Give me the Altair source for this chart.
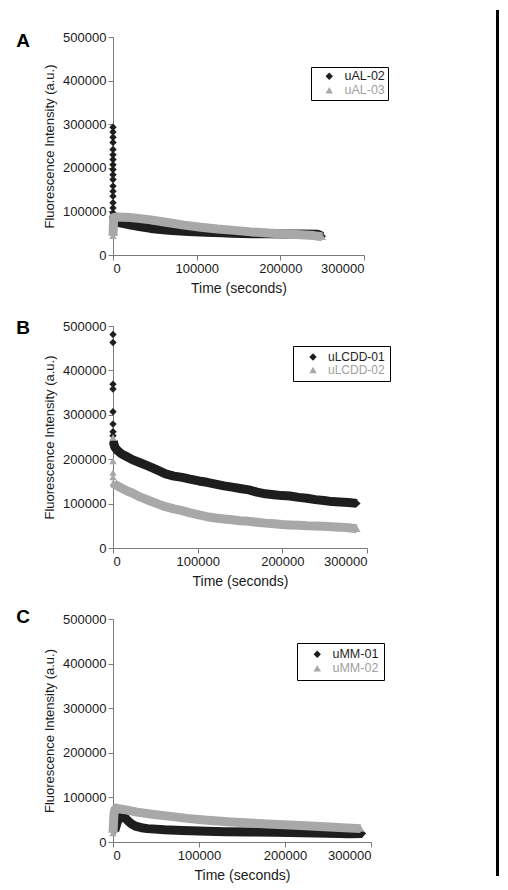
import altair as alt
import pandas as pd

panel_letters = ["A", "B", "C"]
series_names = [["uAL-02", "uAL-03"], ["uLCDD-01", "uLCDD-02"], ["uMM-01", "uMM-02"]]
x_ticks = [0, 100000, 200000, 300000]
y_ticks = [0, 100000, 200000, 300000, 400000, 500000]

# ---- Panel A ----
a1_spike_t = [0, 0, 0, 0, 0, 0, 0, 0, 0, 0, 0, 0, 0, 0, 0, 0, 0]
a1_spike_v = [293000, 282000, 270000, 258000, 242000, 230000, 219000, 207000, 196000,
              184000, 173000, 158000, 146000, 135000, 120000, 108000, 97000]
a1_t = [400, 2000, 5000, 10000, 20000, 31500, 45000, 60000, 71000, 90000, 111000,
        130000, 143000, 165000, 185000, 205000, 225000, 245000, 250000]
a1_v = [92000, 80000, 76000, 73000, 69000, 65000, 61000, 58000, 56000, 54000, 52000,
        51000, 50000, 49000, 48500, 48000, 48000, 47500, 43000]
a2_t = [0, 300, 600, 1000, 5000, 20000, 30000, 45000, 65000, 85000, 105000, 125000,
        145000, 165000, 185000, 205000, 225000, 240000, 250000]
a2_v = [44000, 60000, 75000, 86000, 87000, 86000, 84000, 80500, 74500, 68500, 63500,
        59500, 56500, 53000, 50500, 48000, 46500, 44500, 42000]

# ---- Panel B ----
b1_spike_t = [0, 0, 0, 0, 0, 0, 0, 0]
b1_spike_v = [481000, 463000, 369000, 358000, 307000, 279000, 262000, 253000]
b1_t = [300, 2000, 5000, 10000, 16000, 22800, 32000, 42500, 52000, 62100, 72000, 81700,
        91000, 101400, 111000, 121000, 131000, 140700, 150000, 160400, 170000, 180000,
        190000, 199600, 209000, 219300, 229000, 239000, 249000, 258600, 268000, 278000, 288000]
b1_v = [240000, 228000, 220000, 212000, 206000, 199000, 192000, 184000, 176000, 167000,
        162000, 159000, 155000, 151000, 148000, 144000, 140000, 137000, 134000, 131000,
        126000, 122000, 120000, 118000, 117000, 114000, 112000, 109000, 107000, 104500,
        103500, 102500, 100500]
b2_spike_t = [0, 0, 0, 0]
b2_spike_v = [249000, 196000, 170000, 160000]
b2_t = [300, 2000, 5000, 10000, 16000, 22800, 32000, 42500, 52000, 62100, 72000, 81700,
        91000, 101400, 111000, 121000, 131000, 140700, 150000, 160400, 170000, 180000,
        190000, 199600, 209000, 219300, 229000, 239000, 249000, 258600, 268000, 278000, 288000]
b2_v = [147000, 143000, 140000, 135000, 129000, 124000, 115000, 107000, 100000, 93000,
        88000, 84000, 79000, 74500, 70500, 67500, 65500, 63500, 61500, 60000, 58000,
        56000, 54500, 53000, 52000, 51000, 50000, 49500, 49000, 48000, 47000, 45500, 43500]

# ---- Panel C ----
c1_t = [2000, 5000, 8000, 11000, 14000, 18000, 22000, 27000, 33000, 40000, 60000, 80000,
        100000, 130000, 160000, 190000, 220000, 250000, 275000, 290000]
c1_v = [25000, 45000, 57000, 59000, 54000, 46000, 40000, 35000, 32000, 30000, 27500,
        26000, 24500, 23000, 22500, 22000, 21000, 19500, 18500, 19000]
c2_t = [0, 500, 1000, 2000, 4000, 8000, 15000, 28000, 47500, 67000, 86000, 106000,
        137000, 179000, 218000, 257000, 288000]
c2_v = [20000, 40000, 60000, 72000, 76000, 74000, 72000, 67000, 61500, 57500, 53000,
        49500, 45000, 40500, 37000, 33000, 30000]

BLACK = "#1e1e1e"
GRAY = "#a8a8a8"
GRAY_TEXT = "#a0a0a0"
FONT = "Liberation Sans"
SPACING = 71


def frame(name, kind, t, v):
    return pd.DataFrame({"t": t, "v": v, "series": name, "kind": kind})


panel_data = [
    pd.concat([frame("uAL-02", "spike", a1_spike_t, a1_spike_v),
               frame("uAL-02", "band", a1_t, a1_v),
               frame("uAL-03", "band", a2_t, a2_v)], ignore_index=True),
    pd.concat([frame("uLCDD-01", "spike", b1_spike_t, b1_spike_v),
               frame("uLCDD-01", "band", b1_t, b1_v),
               frame("uLCDD-02", "spike", b2_spike_t, b2_spike_v),
               frame("uLCDD-02", "band", b2_t, b2_v)], ignore_index=True),
    pd.concat([frame("uMM-01", "band", c1_t, c1_v),
               frame("uMM-02", "band", c2_t, c2_v)], ignore_index=True),
]


def panel(idx, width, height, legend_x, legend_y, legend_pad, legend_font, letter_y,
          bar_top, bar_bottom):
    names = series_names[idx]
    df = panel_data[idx]
    base = alt.Chart(df)
    x = alt.X("t:Q", scale=alt.Scale(domain=[0, 300000], nice=False),
              axis=alt.Axis(values=x_ticks, format="d", title="Time (seconds)"))
    y = alt.Y("v:Q", scale=alt.Scale(domain=[0, 500000], nice=False),
              axis=alt.Axis(values=y_ticks, format="d", title="Fluorescence Intensity (a.u.)"))
    legend = alt.Legend(
        title=None, orient="none", legendX=legend_x, legendY=legend_y,
        padding=legend_pad, strokeColor="black", fillColor="white",
        symbolOffset=9, symbolSize=55, symbolStrokeWidth=0, labelOffset=9,
        labelFont=FONT, labelFontSize=legend_font, rowPadding=1,
        labelColor={"expr": f"datum.label == '{names[1]}' ? '{GRAY_TEXT}' : '{BLACK}'"},
    )
    color = alt.Color("series:N", scale=alt.Scale(domain=names, range=[BLACK, GRAY]), legend=legend)
    shape = alt.Shape("series:N", scale=alt.Scale(domain=names, range=["diamond", "triangle-up"]), legend=legend)
    layers = []
    cols = [BLACK, GRAY]
    for i, s in enumerate(names):
        layers.append(
            base.transform_filter((alt.datum.series == s) & (alt.datum.kind == "band"))
            .mark_line(strokeWidth=9, color=cols[i], strokeJoin="round")
            .encode(x=x, y=y)
        )
        layers.append(
            base.transform_filter(alt.datum.series == s)
            .mark_point(filled=True, size=55, opacity=1, strokeWidth=0)
            .encode(x=x, y=y, color=color, shape=shape)
        )
    letter = alt.Chart(pd.DataFrame({"letter": [panel_letters[idx]]})).mark_text(
        font=FONT, fontSize=19, fontWeight="bold", align="center", baseline="middle", color="black"
    ).encode(text="letter:N", x=alt.value(-90), y=alt.value(letter_y))
    # dark frame edge at the right of the figure
    bar = alt.Chart(pd.DataFrame({"k": [0]})).mark_rule(color="black", strokeWidth=3).encode(
        x=alt.value(384.5), y=alt.value(bar_top), y2=alt.value(bar_bottom))
    return alt.layer(*layers, letter, bar).properties(width=width, height=height)


pA = panel(0, 251, 218, 198, 30, 3, 12.5, 4, -27, 218 + SPACING + 3)
pB = panel(1, 254, 222, 180, 20, 5, 12, 2, 0, 222 + SPACING + 3)
pC = panel(2, 258, 223, 184, 24, 5, 12.5, -2, 0, 223 + 34)

chart = (
    alt.vconcat(pA, pB, pC, spacing=SPACING, bounds="flush")
    .resolve_scale(color="independent", shape="independent")
    .resolve_legend(color="independent", shape="independent")
    .properties(padding={"left": 8, "top": 0, "right": 0, "bottom": 2}, background="white")
    .configure_view(stroke=None)
    .configure_axis(
        grid=False, labelFont=FONT, titleFont=FONT, labelFontSize=13, titleFontSize=13,
        titleFontWeight="normal", labelColor="#1a1a1a", titleColor="#1a1a1a",
        domainColor="#7a7a7a", tickColor="#7a7a7a", tickSize=5, labelPadding=2,
        domainWidth=1, tickWidth=1,
    )
    .configure_axisX(titlePadding=6, titleFontSize=14)
    .configure_axisY(titlePadding=6)
)

chart.save("out.html", embed_options={"renderer": "svg", "actions": False})
